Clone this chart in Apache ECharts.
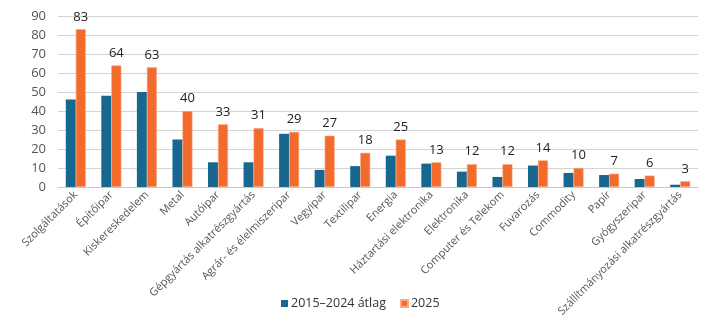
<!DOCTYPE html>
<html>
<head>
<meta charset="utf-8">
<script src="https://cdn.jsdelivr.net/npm/echarts@6/dist/echarts.min.js"></script>
<style>
  html, body { margin: 0; padding: 0; background: #fff; }
  #chart { width: 714px; height: 323px; }
</style>
</head>
<body>
<div id="chart"></div>
<script>
// Sectors shown along the category axis
const categories = [
  'Szolgáltatások', 'Építőipar', 'Kiskereskedelem', 'Metal', 'Autóipar',
  'Gépgyártás alkatrészgyártás', 'Agrár- és élelmiszeripar', 'Vegyipar',
  'Textilipar', 'Energia', 'Háztartási elektronika', 'Elektronika',
  'Computer és Telekom', 'Fuvarozás', 'Commodity', 'Papír',
  'Gyógyszeripar', 'Szállítmányozási alkatrészgyártás'
];

// Long-run average per sector
const avg2015_2024 = [46, 48, 50, 25, 13, 13, 28, 9, 11, 16.5, 12.3, 8.1, 5.3, 11.3, 7.4, 6.3, 4.2, 1.2];

// 2025 values (labelled above each bar)
const values2025 = [83, 64, 63, 40, 33, 31, 29, 27, 18, 25, 13, 12, 12, 14, 10, 7, 6, 3];

const seriesNames = ['2015–2024 átlag', '2025'];

const FONT = '"Open Sans", "Noto Sans", sans-serif';

const chart = echarts.init(document.getElementById('chart'), null, { renderer: 'canvas' });

chart.setOption({
  animation: false,
  textStyle: { fontFamily: FONT },
  grid: { left: 58, right: 16, top: 16, bottom: 136 },
  legend: {
    bottom: 8,
    left: 276,
    itemWidth: 7,
    itemHeight: 7,
    itemGap: 14,
    icon: 'rect',
    textStyle: { fontSize: 12.5, color: '#333', fontFamily: FONT, padding: [0, 0, 0, -2] },
    data: seriesNames
  },
  xAxis: {
    type: 'category',
    data: categories,
    axisLine: { lineStyle: { color: '#c8c8c8', width: 1 } },
    axisTick: { show: false },
    axisLabel: {
      rotate: 45,
      interval: 0,
      fontSize: 11,
      color: '#555',
      fontFamily: FONT,
      margin: 6
    }
  },
  yAxis: {
    type: 'value',
    min: 0,
    max: 90,
    interval: 10,
    axisLine: { show: false },
    axisTick: { show: false },
    axisLabel: { fontSize: 13, color: '#555', fontFamily: FONT, margin: 12 },
    splitLine: { lineStyle: { color: '#d4d4d4', width: 1 } }
  },
  series: [
    {
      name: seriesNames[0],
      type: 'bar',
      data: avg2015_2024,
      barWidth: 10,
      barGap: '0%',
      itemStyle: { color: '#17678f' }
    },
    {
      name: seriesNames[1],
      type: 'bar',
      data: values2025,
      barWidth: 10,
      itemStyle: { color: '#f26a2c', borderColor: '#f7a98a', borderWidth: 0.6 },
      label: {
        show: true,
        position: 'top',
        distance: 6,
        fontSize: 13,
        color: '#222',
        fontFamily: FONT
      }
    }
  ]
});
</script>
</body>
</html>
